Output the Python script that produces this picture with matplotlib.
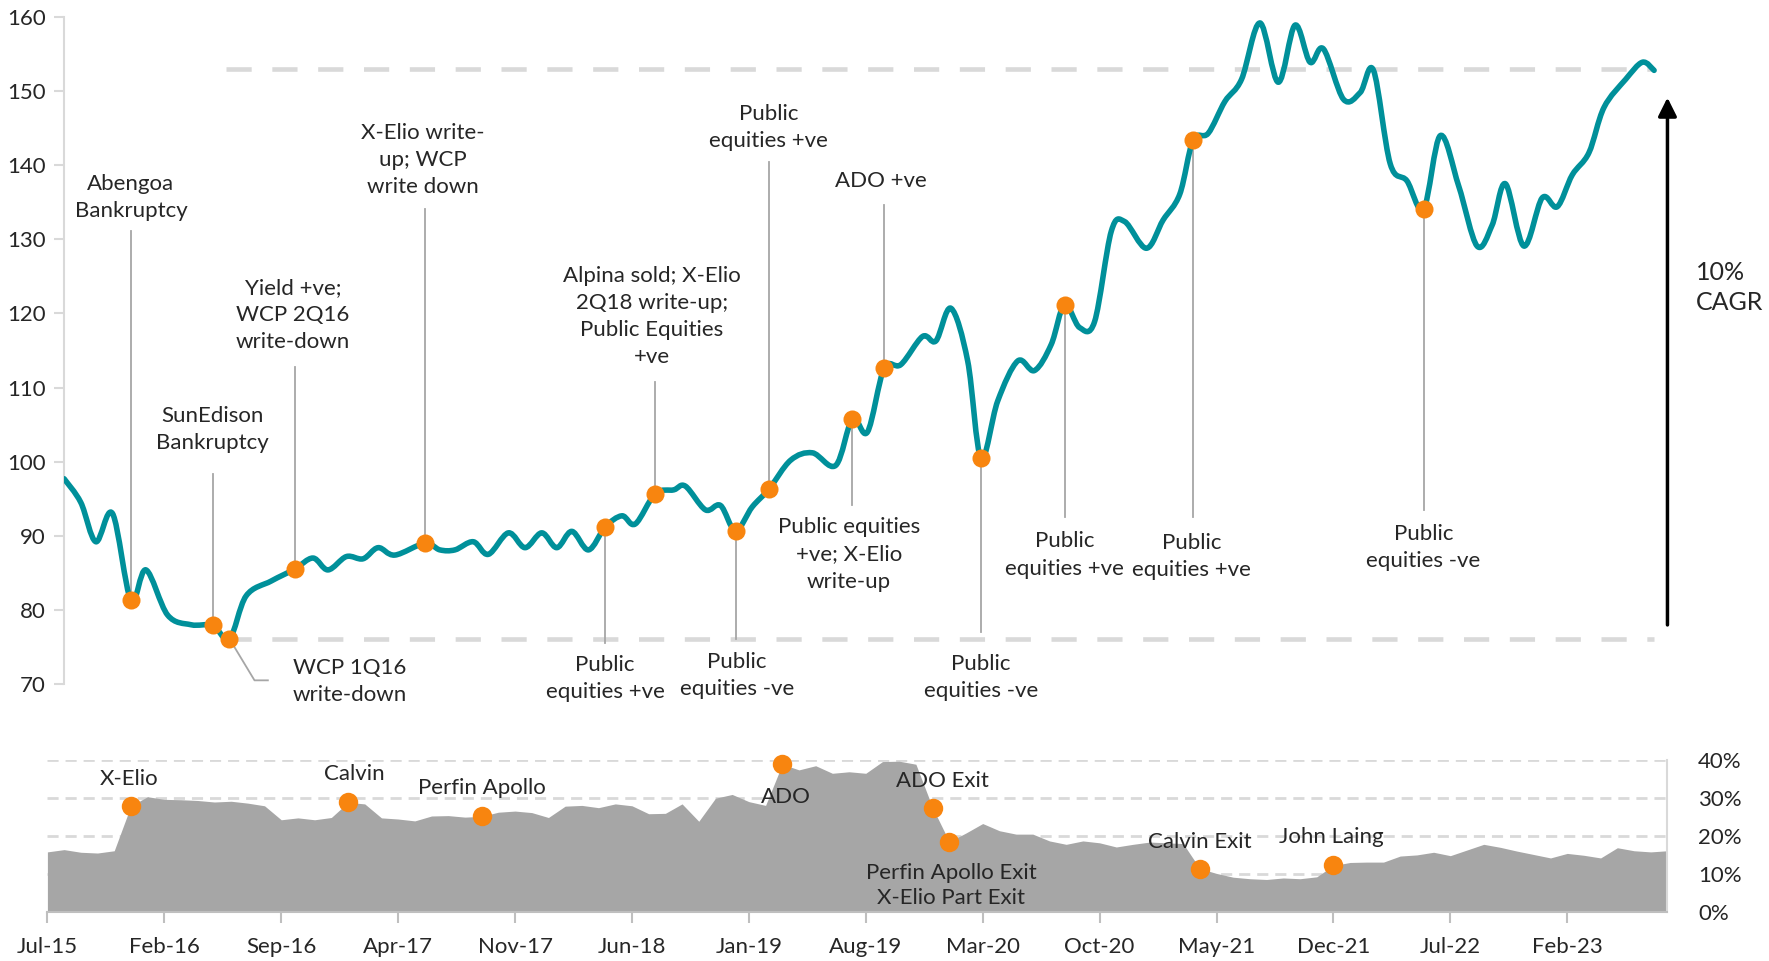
import matplotlib
matplotlib.use("Agg")
import matplotlib.pyplot as plt
from matplotlib.path import Path
from matplotlib.patches import PathPatch

# ---- data: top panel (index value, month offset from Jul-15) ----
nav_month = [1.0, 2.0, 2.9, 3.9, 5.0, 5.9, 7.2, 8.6, 9.9, 10.9, 11.9, 13.4, 14.8, 15.9,
             16.8, 17.9, 18.9, 19.8, 20.8, 22.6, 23.5, 24.4, 25.5, 26.4, 27.6, 28.6,
             29.6, 30.5, 31.4, 32.4, 33.4, 34.4, 35.2, 36.4, 37.5, 38.2, 39.4, 40.3,
             41.2, 42.2, 43.2, 44.5, 45.8, 47.2, 48.2, 49.1, 50.1, 51.1, 52.4, 53.2,
             54.1, 55.1, 55.9, 56.9, 58.1, 59.1, 60.1, 60.9, 61.8, 62.7, 63.7, 64.5,
             65.8, 66.8, 67.8, 68.6, 69.5, 70.5, 71.5, 72.6, 73.7, 74.7, 75.6, 76.4,
             77.6, 78.6, 79.4, 80.4, 81.4, 82.4, 83.4, 84.5, 85.6, 86.5, 87.3, 88.4,
             89.5, 90.4, 91.3, 92.3, 93.2, 94.5, 95.5, 96.2]
nav_value = [97.7, 94.5, 89.2, 93.0, 81.3, 85.4, 79.3, 78.0, 77.9, 76.1, 81.9, 83.9, 85.5, 87.0,
             85.4, 87.2, 86.9, 88.4, 87.4, 89.0, 88.1, 88.1, 89.2, 87.5, 90.4, 88.4,
             90.4, 88.4, 90.6, 88.1, 91.2, 92.7, 91.6, 95.7, 96.2, 96.7, 93.5, 94.1,
             90.7, 93.9, 96.3, 100.2, 101.2, 99.5, 105.8, 104.0, 112.6, 113.1, 116.9, 116.3,
             120.7, 113.6, 100.5, 108.2, 113.6, 112.3, 115.8, 121.2, 118.1, 118.9, 131.1, 132.4,
             128.8, 132.6, 136.1, 143.4, 144.3, 148.6, 151.6, 159.2, 151.2, 158.9, 153.9, 155.7,
             148.9, 149.8, 152.8, 140.2, 137.9, 134.1, 144.0, 137.2, 129.1, 131.9, 137.5, 129.1,
             135.6, 134.4, 138.7, 141.7, 147.8, 151.6, 153.9, 152.8]

# events on top panel: dot month, dot value, label, label position, leader end
ev_month = [5.0, 9.9, 10.9, 14.8, 22.6, 33.4, 36.4, 41.2, 43.2, 48.2, 50.1, 55.9, 60.9, 68.6, 82.4]
ev_value = [81.3, 77.9, 76.1, 85.5, 89.0, 91.2, 95.7, 90.7, 96.3, 105.8, 112.6, 100.5, 121.2, 143.4, 134.1]
ev_label = ["Abengoa\nBankruptcy", "SunEdison\nBankruptcy", "WCP 1Q16\nwrite-down",
            "Yield +ve;\nWCP 2Q16\nwrite-down", "X-Elio write-\nup; WCP\nwrite down",
            "Public\nequities +ve", "Alpina sold; X-Elio\n2Q18 write-up;\nPublic Equities\n+ve",
            "Public\nequities -ve", "Public\nequities +ve", "Public equities\n+ve; X-Elio\nwrite-up",
            "ADO +ve", "Public\nequities -ve", "Public\nequities +ve", "Public\nequities +ve",
            "Public\nequities -ve"]
ev_text_x = [5.0, 9.9, 18.1, 14.7, 22.5, 33.4, 36.2, 41.3, 43.2, 48.0, 49.9, 55.9, 60.9, 68.5, 82.4]
ev_text_y = [135.6, 104.3, 70.3, 119.8, 140.7, 70.8, 119.6, 71.1, 145.1, 87.5, 137.9, 70.9, 87.4, 87.2, 88.4]
ev_line_end = [131.1, 98.3, None, 112.8, 134.1, 75.5, 110.8, 76.1, 140.5, 94.2, 134.6, 77.0, 92.5, 92.5, 93.5]

band_hi, band_lo = 153.0, 76.1

# ---- data: bottom panel (% share, monthly from Jul-15) ----
share = [15.8, 16.4, 15.7, 15.5, 16.1, 28.0, 30.4, 29.7, 29.6, 29.4, 29.0, 29.2, 28.7, 28.0,
         24.3, 24.8, 24.3, 24.9, 28.9, 28.5, 24.8, 24.5, 24.0, 25.3, 25.4, 25.0, 25.2, 26.3,
         26.6, 26.2, 24.9, 27.9, 28.1, 27.5, 28.5, 28.0, 25.9, 26.0, 28.5, 23.9, 30.0, 31.0,
         29.1, 28.1, 39.0, 37.5, 38.6, 36.6, 37.0, 36.6, 39.7, 39.8, 39.0, 27.5, 18.5, 20.8,
         23.3, 21.4, 20.5, 20.5, 18.7, 17.8, 18.7, 18.2, 17.1, 17.8, 18.4, 18.2, 18.0, 11.4,
         10.1, 9.1, 8.7, 8.5, 8.9, 8.7, 9.2, 12.2, 13.0, 13.1, 13.1, 14.7, 15.0, 15.7,
         14.8, 16.3, 17.8, 17.0, 16.0, 15.1, 14.2, 15.4, 14.9, 14.2, 16.9, 16.1, 15.8, 16.1]
share_month = list(range(len(share)))

deal_month = [5, 18, 26, 44, 53, 54, 69, 77]
deal_label = ["X-Elio", "Calvin", "Perfin Apollo", "ADO", "ADO Exit",
              "Perfin Apollo Exit\nX-Elio Part Exit", "Calvin Exit", "John Laing"]
deal_text_x = [4.9, 18.4, 26.0, 44.2, 53.6, 54.1, 69.0, 76.9]
deal_text_y = [35.0, 36.4, 32.8, 30.4, 34.6, 6.9, 18.5, 19.7]

tick_month = [0, 7, 14, 21, 28, 35, 42, 49, 56, 63, 70, 77, 84, 91]
tick_label = ["Jul-15", "Feb-16", "Sep-16", "Apr-17", "Nov-17", "Jun-18", "Jan-19",
              "Aug-19", "Mar-20", "Oct-20", "May-21", "Dec-21", "Jul-22", "Feb-23"]

teal = "#00909A"
orange = "#F8850F"
txt = "#262626"
lgrey = "#D9D9D9"

plt.rcParams['font.family'] = ['Lato', 'DejaVu Sans']


def smooth_path(xs, ys):
    # Excel-style smoothed line: cubic Bezier segments through every point
    verts = [(xs[0], ys[0])]
    codes = [Path.MOVETO]
    n = len(xs)
    for i in range(n - 1):
        x0, y0 = (xs[i - 1], ys[i - 1]) if i > 0 else (xs[i], ys[i])
        x1, y1 = xs[i], ys[i]
        x2, y2 = xs[i + 1], ys[i + 1]
        x3, y3 = (xs[i + 2], ys[i + 2]) if i + 2 < n else (x2, y2)
        verts += [(x1 + (x2 - x0) / 6, y1 + (y2 - y0) / 6),
                  (x2 - (x3 - x1) / 6, y2 - (y3 - y1) / 6),
                  (x2, y2)]
        codes += [Path.CURVE4] * 3
    return Path(verts, codes)


fig = plt.figure(figsize=(17.69, 9.61), dpi=100)

# ---------------- top panel ----------------
ax = fig.add_axes([0.03624, 0.2882, 0.9426 - 0.03624, 0.9823 - 0.2882])
ax.set_xlim(1, 97)
ax.set_ylim(70, 160)
for s in ['top', 'right', 'bottom']:
    ax.spines[s].set_visible(False)
ax.spines['left'].set_color(lgrey)
ax.spines['left'].set_linewidth(1.5)
ax.set_xticks([])
ax.set_yticks(range(70, 161, 10))
ax.tick_params(axis='y', colors=lgrey, length=7, width=1.5, labelcolor=txt, labelsize=16, pad=6)

ax.plot([10.7, 96.2], [band_hi, band_hi], color=lgrey, lw=3.3, dashes=(5.5, 4.5), zorder=1)
ax.plot([10.7, 96.2], [band_lo, band_lo], color=lgrey, lw=3.3, dashes=(5.5, 4.5), zorder=1)

ax.add_patch(PathPatch(smooth_path(nav_month, nav_value), fill=False, edgecolor=teal,
                       lw=4, capstyle='round', joinstyle='round', zorder=3))

for i in range(len(ev_month)):
    if ev_line_end[i] is None:
        ax.plot([ev_month[i], 12.4, 13.2], [ev_value[i], 70.5, 70.5], color="#A6A6A6",
                lw=1.3, zorder=2, clip_on=False)
    else:
        ax.plot([ev_month[i], ev_month[i]], [ev_value[i], ev_line_end[i]], color="#A6A6A6",
                lw=1.3, zorder=2, clip_on=False)
    ax.text(ev_text_x[i], ev_text_y[i], ev_label[i], ha='center', va='center',
            fontsize=16, color=txt, linespacing=1.45, clip_on=False)
ax.plot(ev_month, ev_value, 'o', color=orange, ms=13, mec='none', zorder=4)

ax.annotate("", xy=(97, 149.5), xytext=(97, 77.6),
            arrowprops=dict(arrowstyle='-|>', color='black', lw=2.5, mutation_scale=28),
            annotation_clip=False)
ax.text(98.7, 123.5, "10%\nCAGR", ha='left', va='center', fontsize=18, color=txt,
        linespacing=1.4, clip_on=False)

# ---------------- bottom panel ----------------
bx = fig.add_axes([0.0268, 0.0514, 0.9158, 0.1573])
bx.set_xlim(0, 97)
bx.set_ylim(0, 40)
bx.fill_between(share_month, share, 0, color="#A6A6A6", lw=0, zorder=2)
bx.yaxis.tick_right()
bx.set_yticks([0, 10, 20, 30, 40])
bx.set_yticklabels(["0%", "10%", "20%", "30%", "40%"])
bx.tick_params(axis='y', length=0, labelsize=16, labelcolor=txt, pad=22)
for y in [10, 20, 30, 40]:
    bx.axhline(y, color=lgrey, lw=2, dashes=(4, 2.5), zorder=1)
bx.spines['top'].set_visible(False)
bx.spines['left'].set_visible(False)
bx.spines['right'].set_color(lgrey)
bx.spines['right'].set_linewidth(1.5)
bx.spines['bottom'].set_color("#BFBFBF")
bx.spines['bottom'].set_linewidth(1.5)
bx.set_xticks(tick_month)
bx.set_xticklabels(tick_label)
bx.tick_params(axis='x', colors="#BFBFBF", length=8, width=1.5, labelcolor=txt,
               labelsize=16, pad=10)

deal_value = [share[m] for m in deal_month]
bx.plot(deal_month, deal_value, 'o', color=orange, ms=14, mec='none', zorder=4, clip_on=False)
for i in range(len(deal_label)):
    bx.text(deal_text_x[i], deal_text_y[i], deal_label[i], ha='center', va='center',
            fontsize=16, color=txt, linespacing=1.3, zorder=5)

fig.savefig("out.png", dpi=100)
